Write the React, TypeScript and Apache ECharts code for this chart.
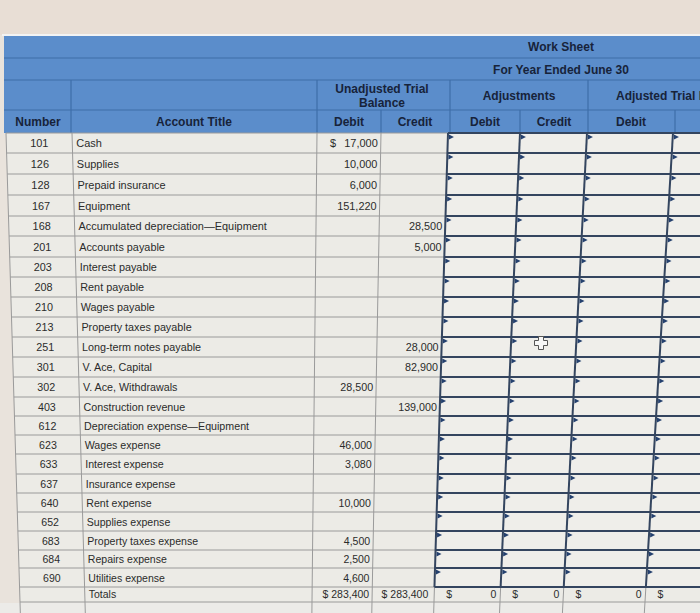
import React, { useEffect, useRef } from "react";
import * as echarts from "echarts";

// ---------- data ----------
const accountNumbers = ["101","126","128","167","168","201","203","208","210","213","251","301","302","403","612","623","633","637","640","652","683","684","690"];
const accountTitles = [
  "Cash","Supplies","Prepaid insurance","Equipment","Accumulated depreciation\u2014Equipment",
  "Accounts payable","Interest payable","Rent payable","Wages payable","Property taxes payable",
  "Long-term notes payable","V. Ace, Capital","V. Ace, Withdrawals","Construction revenue",
  "Depreciation expense\u2014Equipment","Wages expense","Interest expense","Insurance expense",
  "Rent expense","Supplies expense","Property taxes expense","Repairs expense","Utilities expense",
];
const unadjDebit: (number | null)[] = [17000,10000,6000,151220,null,null,null,null,null,null,null,null,28500,null,null,46000,3080,null,10000,null,4500,2500,4600];
const unadjCredit: (number | null)[] = [null,null,null,null,28500,5000,null,null,null,null,28000,82900,null,139000,null,null,null,null,null,null,null,null,null];
const unadjTotals = [283400, 283400];
const adjTotals = [0, 0, 0];
const titleLines = ["Work Sheet", "For Year Ended June 30"];
const groupLabels = ["Unadjusted Trial", "Balance", "Adjustments", "Adjusted Trial Balance"];
const subLabels = ["Number", "Account Title", "Debit", "Credit", "Debit", "Credit", "Debit"];

// ---------- layout ----------
const ROW_Y = [133,153,174,195,216,236,257,277,297,317,337,357,377,397,416,435,454,474,493,512,531,550,568,587,602];
const COL_TOP = [6, 72, 317, 381, 448, 520, 587, 673, 760];
const COL_BOT = [20, 85, 312, 372, 434, 500, 563, 645, 720];
const HX = [4, 71, 317, 381, 450, 520, 588, 675];
const Y0 = 133, Y1 = 602;
const FONT = "'Liberation Sans', Arial, sans-serif";
const xAt = (i: number, y: number) => COL_TOP[i] + (COL_BOT[i] - COL_TOP[i]) * (y - Y0) / (Y1 - Y0);
const fmt = (v: number) => v.toLocaleString("en-US");

function txt(x: number, y: number, text: string, opts: any = {}) {
  const align = opts.align || "left";
  return {
    type: "text", x, y, silent: true, z: 10,
    style: {
      text, fill: opts.fill || "#2b2b2b", fontSize: opts.size || 11, fontFamily: FONT,
      fontWeight: opts.bold ? "bold" : "normal",
      align, textAlign: align, verticalAlign: "middle", textVerticalAlign: "middle",
    },
  };
}
function line(x1: number, y1: number, x2: number, y2: number, stroke: string, w: number, z = 3) {
  return { type: "line", silent: true, z, shape: { x1, y1, x2, y2 }, style: { stroke, lineWidth: w } };
}

function buildGraphic() {
  const els: any[] = [];
  // page background
  els.push({ type: "rect", z: 0, silent: true, shape: { x: 0, y: 0, width: 700, height: 613 }, style: { fill: "#e9e3dc" } });
  els.push({ type: "rect", z: 0, silent: true, shape: { x: 0, y: 0, width: 700, height: 35 }, style: { fill: "#e8ded5" } });
  // header
  els.push({ type: "rect", z: 1, silent: true, shape: { x: 2, y: 34, width: 698, height: 2 }, style: { fill: "#f3f3f3" } });
  els.push({ type: "rect", z: 1, silent: true, shape: { x: 4, y: 36, width: 696, height: 97 }, style: { fill: "#5b8dcb" } });
  const hl = "#3f6ea8";
  [58, 80, 110].forEach((y) => els.push(line(4, y, 700, y, hl, 1.2)));
  [HX[1], HX[2], HX[4], HX[6]].forEach((x) => els.push(line(x, 80, x, 133, hl, 1.2)));
  [HX[3], HX[5], HX[7]].forEach((x) => els.push(line(x, 110, x, 133, hl, 1.2)));
  const hc = "#17233a";
  els.push(txt(561, 47, titleLines[0], { align: "center", bold: true, size: 12, fill: hc }));
  els.push(txt(561, 70, titleLines[1], { align: "center", bold: true, size: 12, fill: hc }));
  els.push(txt(382, 89, groupLabels[0], { align: "center", bold: true, size: 12, fill: hc }));
  els.push(txt(382, 103, groupLabels[1], { align: "center", bold: true, size: 12, fill: hc }));
  els.push(txt(519, 96, groupLabels[2], { align: "center", bold: true, size: 12, fill: hc }));
  els.push(txt(616, 96, groupLabels[3], { align: "left", bold: true, size: 12, fill: hc }));
  const subCenters = [38, 194, 349, 415, 485, 554, 631];
  subLabels.forEach((s, i) => els.push(txt(subCenters[i], 122, s, { align: "center", bold: true, size: 12, fill: hc })));

  // body backgrounds
  const yEnd = 613;
  els.push({ type: "polygon", z: 1, silent: true, shape: { points: [[xAt(0, Y0), Y0], [700, Y0], [700, yEnd], [xAt(0, yEnd), yEnd]] }, style: { fill: "#ecebe6" } });
  els.push({ type: "polygon", z: 1, silent: true, shape: { points: [[xAt(4, Y0), Y0], [700, Y0], [700, ROW_Y[23]], [xAt(4, ROW_Y[23]), ROW_Y[23]]] }, style: { fill: "#efeeea" } });
  els.push({ type: "rect", z: 1, silent: true, shape: { x: 0, y: 603, width: 700, height: 10 }, style: { fill: "#ecebe8" } });

  const thin = "#9a9a9a";
  const thick = "#34455f";
  // thin horizontal lines (left part)
  ROW_Y.forEach((y, r) => {
    const xr = r < ROW_Y.length - 2 && r > 0 ? xAt(4, y) : 700;
    els.push(line(xAt(0, y), y, r === 0 ? xAt(4, y) : xr, y, thin, 1));
  });
  // thin vertical lines
  for (let c = 0; c <= 3; c++) els.push(line(xAt(c, Y0), Y0, xAt(c, yEnd), yEnd, thin, 1));
  for (let c = 4; c <= 7; c++) els.push(line(xAt(c, ROW_Y[23]), ROW_Y[23], xAt(c, yEnd), yEnd, thin, 1));
  // input cells: thick borders
  for (let r = 0; r <= 23; r++) {
    const y = ROW_Y[r];
    els.push(line(xAt(4, y), y, 700, y, thick, 2.2, 5));
  }
  for (let c = 4; c <= 7; c++) els.push(line(xAt(c, Y0), Y0, xAt(c, ROW_Y[23]), ROW_Y[23], thick, 2, 5));
  // triangle markers
  for (let r = 0; r < 23; r++) {
    const y = ROW_Y[r] + 1.5;
    for (let c = 4; c <= 7; c++) {
      const x = xAt(c, y) + 1;
      if (x > 698) continue;
      els.push({ type: "polygon", z: 6, silent: true, shape: { points: [[x, y], [x + 5, y + 2.5], [x, y + 5]] }, style: { fill: "#24406e" } });
    }
  }

  // body texts
  for (let r = 0; r < accountNumbers.length; r++) {
    const yc = (ROW_Y[r] + ROW_Y[r + 1]) / 2;
    const size = 11 - 0.5 * (yc - Y0) / (Y1 - Y0);
    els.push(txt((xAt(0, yc) + xAt(1, yc)) / 2, yc, accountNumbers[r], { align: "center", size }));
    els.push(txt(xAt(1, yc) + 4, yc, accountTitles[r], { size }));
    const d = unadjDebit[r];
    if (d != null) {
      els.push(txt(xAt(3, yc) - 3, yc, fmt(d), { align: "right", size }));
      if (r === 0) els.push(txt(xAt(2, yc) + 13, yc, "$", { size }));
    }
    const cr = unadjCredit[r];
    if (cr != null) els.push(txt(xAt(4, yc) - 3, yc, fmt(cr), { align: "right", size }));
  }
  // totals row
  const yt = (ROW_Y[23] + ROW_Y[24]) / 2 - 1;
  els.push(txt(xAt(1, yt) + 4, yt, "Totals", { size: 10.5 }));
  els.push(txt(xAt(3, yt) - 3, yt, "$ " + fmt(unadjTotals[0]), { align: "right", size: 10.5 }));
  els.push(txt(xAt(4, yt) - 6, yt, "$ " + fmt(unadjTotals[1]), { align: "right", size: 10.5 }));
  adjTotals.forEach((v, i) => {
    els.push(txt(xAt(4 + i, yt) + 12, yt, "$", { size: 10.5 }));
    els.push(txt(xAt(5 + i, yt) - 4, yt, fmt(v), { align: "right", size: 10.5 }));
  });
  els.push(txt(xAt(7, yt) + 12, yt, "$", { size: 10.5 }));

  // cursor glyph
  const cx = 541, cy = 343, a = 2.5, b = 6.5;
  els.push({
    type: "polygon", z: 12, silent: true,
    shape: { points: [[cx - a, cy - b], [cx + a, cy - b], [cx + a, cy - a], [cx + b, cy - a], [cx + b, cy + a], [cx + a, cy + a], [cx + a, cy + b], [cx - a, cy + b], [cx - a, cy + a], [cx - b, cy + a], [cx - b, cy - a], [cx - a, cy - a]] },
    style: { fill: "#f7f7f7", stroke: "#555", lineWidth: 1 },
  });
  return els;
}

export default function App() {
  const ref = useRef<HTMLDivElement>(null);
  useEffect(() => {
    document.body.style.margin = "0";
    const chart = echarts.init(ref.current!, null, { renderer: "svg" });
    chart.setOption({ animation: false, graphic: { elements: buildGraphic() } });
    return () => chart.dispose();
  }, []);
  return <div ref={ref} style={{ width: 700, height: 613 }} />;
}
